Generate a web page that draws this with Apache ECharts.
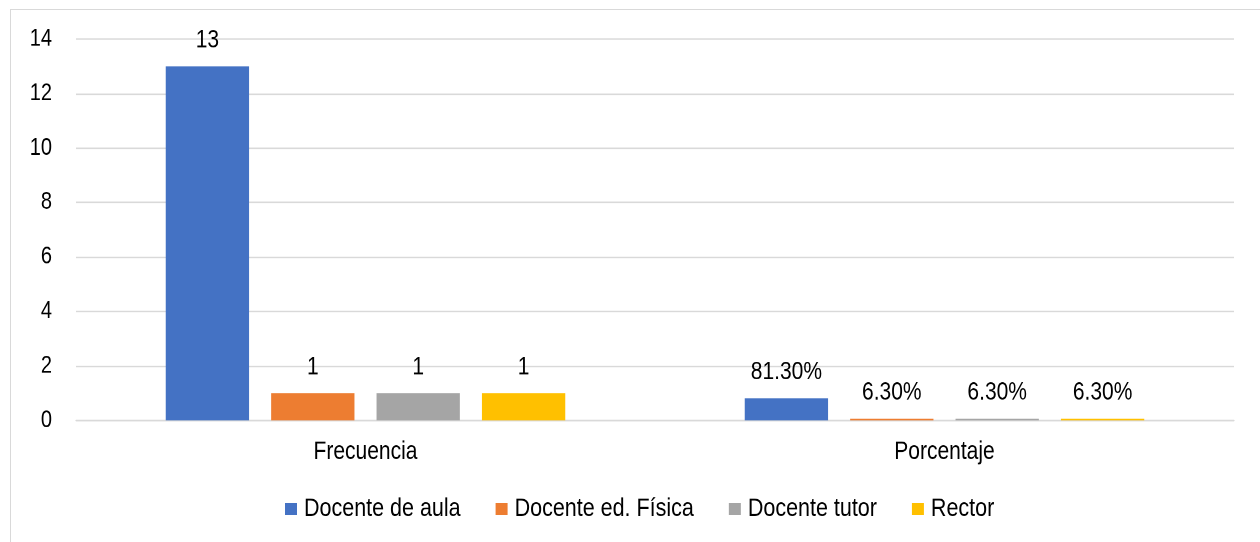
<!DOCTYPE html>
<html>
<head>
<meta charset="utf-8">
<script src="https://cdn.jsdelivr.net/npm/echarts@6/dist/echarts.min.js"></script>
<style>
  html, body { margin: 0; padding: 0; background: #fff; }
  #wrap { width: 1260px; height: 542px; overflow: hidden; position: relative; }
  /* the reference font is a tall narrow face; stretch the chart vertically to mimic it */
  #chart { position: absolute; left: 0; top: 0; width: 1260px; height: 451.67px; transform: scaleY(1.2); transform-origin: 0 0; }
</style>
</head>
<body>
<div id="wrap"><div id="chart"></div></div>
<script>
var categories = ['Frecuencia', 'Porcentaje']
var seriesNames = ['Docente de aula', 'Docente ed. Física', 'Docente tutor', 'Rector']
var seriesColors = ['#4472C4', '#ED7D31', '#A5A5A5', '#FFC000']
// porcentaje se guarda como fracción (0.813 = 81.30%)
var docenteAula = [13, 0.813]
var docenteEdFisica = [1, 0.063]
var docenteTutor = [1, 0.063]
var rector = [1, 0.063]
var yTicks = [0, 2, 4, 6, 8, 10, 12, 14]

var font = 'Arial, "Liberation Sans", sans-serif'

function labelFormatter(p) {
  if (p.dataIndex === 1) {
    return (p.value * 100).toFixed(2) + '%'
  }
  return p.value
}

function makeSeries(name, data, color) {
  return {
    name: name,
    type: 'bar',
    data: data,
    barGap: '26.5%',
    barCategoryGap: '31%',
    itemStyle: { color: color },
    label: {
      show: true,
      position: 'top',
      distance: 11,
      color: '#000',
      fontSize: 21,
      fontFamily: font,
      formatter: labelFormatter
    }
  }
}

var chart = echarts.init(document.getElementById('chart'), null, { devicePixelRatio: 2 })
chart.setOption({
  animation: false,
  color: seriesColors,
  graphic: [{
    type: 'rect',
    shape: { x: 10.5, y: 8, width: 1300, height: 600 },
    style: { fill: 'none', stroke: '#d9d9d9', lineWidth: 1 },
    silent: true,
    z: -1
  }],
  grid: {
    left: 76,
    right: 26,
    top: 32.5,
    bottom: 101.7
  },
  legend: {
    data: seriesNames,
    top: 408,
    left: 280,
    padding: 5,
    icon: 'rect',
    itemWidth: 12,
    itemHeight: 10,
    itemGap: 35,
    textStyle: {
      fontSize: 21.5,
      fontFamily: font,
      color: '#000',
      padding: [0, 0, 0, 2]
    }
  },
  xAxis: {
    type: 'category',
    data: categories,
    axisLine: { lineStyle: { color: '#d9d9d9', width: 1.25 } },
    axisTick: { show: false },
    axisLabel: {
      color: '#000',
      fontSize: 21,
      fontFamily: font,
      margin: 16
    }
  },
  yAxis: {
    type: 'value',
    min: yTicks[0],
    max: yTicks[yTicks.length - 1],
    interval: 2,
    axisLine: { show: false },
    axisTick: { show: false },
    splitLine: { lineStyle: { color: '#d9d9d9', width: 1.25 } },
    axisLabel: {
      color: '#000',
      fontSize: 20,
      fontFamily: font,
      margin: 24
    }
  },
  series: [
    makeSeries(seriesNames[0], docenteAula, seriesColors[0]),
    makeSeries(seriesNames[1], docenteEdFisica, seriesColors[1]),
    makeSeries(seriesNames[2], docenteTutor, seriesColors[2]),
    makeSeries(seriesNames[3], rector, seriesColors[3])
  ]
})
</script>
</body>
</html>
